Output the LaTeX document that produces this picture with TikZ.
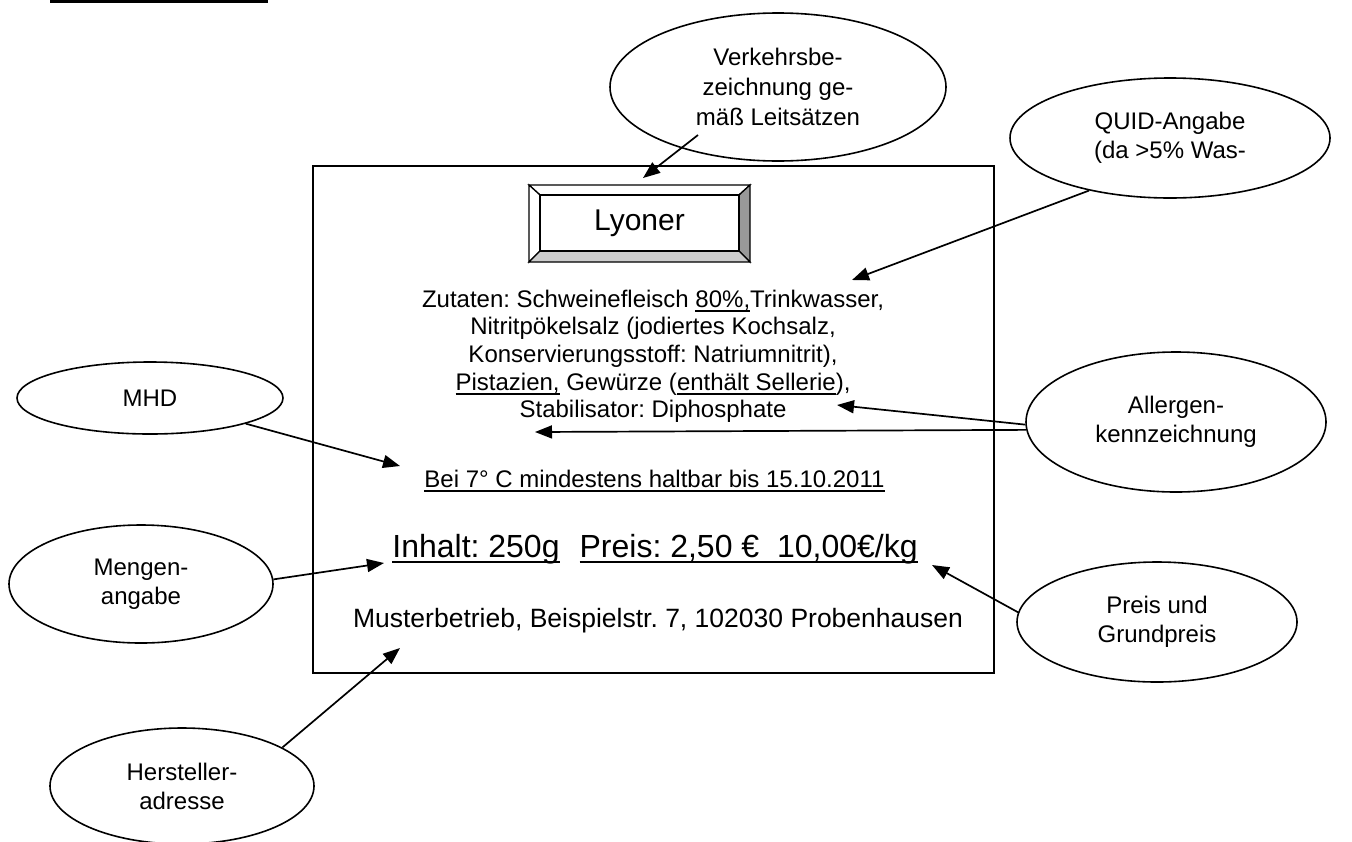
\documentclass[tikz,border=0pt]{standalone}
\usepackage{fontspec}
\setmainfont{Liberation Sans}
\usetikzlibrary{shapes.geometric,arrows.meta}
\newsavebox\ulbox
\newcommand\ulx[1]{\sbox\ulbox{#1}\rlap{\rule[-0.19em]{\wd\ulbox}{0.08em}}\usebox\ulbox}
\newcommand\myfs[2]{\fontsize{#1}{#2}\selectfont}
\frenchspacing
\begin{document}
\frenchspacing
\begin{tikzpicture}[x=0.5pt,y=-0.5pt,
  ell/.style={draw, ellipse, line width=0.8pt, inner sep=0pt, align=center, font=\myfs{12pt}{14.5pt}},
  txt/.style={anchor=base, inner sep=0pt},
  arr/.style={line width=0.85pt, -{Triangle[length=8.5pt,width=6.5pt]}},
  bevel/.style={draw=black, line width=0.65pt}]
\fill[white] (0,0) rectangle (1352,841);
\useasboundingbox (0,0) rectangle (1352,841);
% cut-off heading underline
\fill[black] (50,0) rectangle (268,2.5);
% label frame
\node[draw, line width=1pt, minimum width=340.5pt, minimum height=253.5pt, inner sep=0pt] (etikett) at (653.5,419.5) {};
% Lyoner button
\filldraw[bevel, fill=white] (529,185) -- (750,185) -- (739,195) -- (540,195) -- cycle;
\filldraw[bevel, fill=white] (529,185) -- (540,195) -- (540,251) -- (529,262) -- cycle;
\filldraw[bevel, fill=gray!80] (750,185) -- (750,262) -- (739,251) -- (739,195) -- cycle;
\filldraw[bevel, fill=gray!40] (529,262) -- (750,262) -- (739,251) -- (540,251) -- cycle;
\node[draw, line width=0.65pt, fill=white, minimum width=99.5pt, minimum height=28pt, inner sep=0pt, font=\myfs{15pt}{18pt}] (lyoner) at (639.5,223) {Lyoner};
% label texts
\begin{scope}[font=\myfs{12pt}{14pt}]
\node[txt] (ing1) at (653,307) {Zutaten: Schweinefleisch \ulx{80\%,}Trinkwasser,};
\node[txt] (ing2) at (653,334.7) {Nitritpökelsalz (jodiertes Kochsalz,};
\node[txt] (ing3) at (653,362.4) {Konservierungsstoff: Natriumnitrit),};
\node[txt] (ing4) at (653,390.1) {\ulx{Pistazien,} Gewürze (\ulx{enthält Sellerie}),};
\node[txt] (ing5) at (653,417.8) {Stabilisator: Diphosphate};
\node[txt] (mhdtext) at (654.5,487) {\ulx{Bei 7° C mindestens haltbar bis 15.10.2011}};
\end{scope}
\node[txt, font=\myfs{16pt}{19pt}] (inhalt) at (655,557) {\ulx{Inhalt: 250g}\hspace{10pt}\ulx{Preis: 2,50 €\ \ 10,00€/kg}};
\node[txt, font=\myfs{13.25pt}{16pt}] (adresse) at (658,627) {Musterbetrieb, Beispielstr. 7, 102030 Probenhausen};
% callout ellipses
\node[ell, minimum width=168pt, minimum height=74pt, font=\myfs{12pt}{15pt}] (verk) at (778,87) {Verkehrsbe-\\zeichnung ge-\\mäß Leitsätzen};
\node[ell, minimum width=160pt, minimum height=60pt] (quid) at (1170,138) {QUID-Angabe\\(da >5\% Was-};
\node[ell, minimum width=133pt, minimum height=36pt] (mhd) at (150,398) {MHD};
\node[ell, minimum width=150pt, minimum height=70pt] (allerg) at (1176,422) {Allergen-\\kennzeichnung};
\node[ell, minimum width=132pt, minimum height=59pt] (meng) at (141,584) {Mengen-\\angabe};
\node[ell, minimum width=140pt, minimum height=60pt] (preis) at (1157,622) {Preis und\\Grundpreis};
\node[ell, minimum width=132pt, minimum height=58pt] (herst) at (182,786) {Hersteller-\\adresse};
% arrow targets
\coordinate (tVerk) at (643,178);
\coordinate (tQuid) at (852,280);
\coordinate (tSell) at (837,405);
\coordinate (tStab) at (535,432);
\coordinate (tMhd) at (400,466);
\coordinate (tMeng) at (384,563);
\coordinate (tPreis) at (932,565);
\coordinate (tHerst) at (400,648);
% arrows
\draw[arr] ([shift={(-80,48)}]verk.center) -- (tVerk);
\draw[arr] (quid.213.7) -- (tQuid);
\draw[arr] (allerg.181.5) -- (tSell);
\draw[arr] (allerg.183.3) -- (tStab);
\draw[arr] (mhd.-15) -- (tMhd);
\draw[arr] (meng.2) -- (tMeng);
\draw[arr] (preis.176.3) -- (tPreis);
\draw[arr] (herst.21.3) -- (tHerst);
\end{tikzpicture}
\end{document}
